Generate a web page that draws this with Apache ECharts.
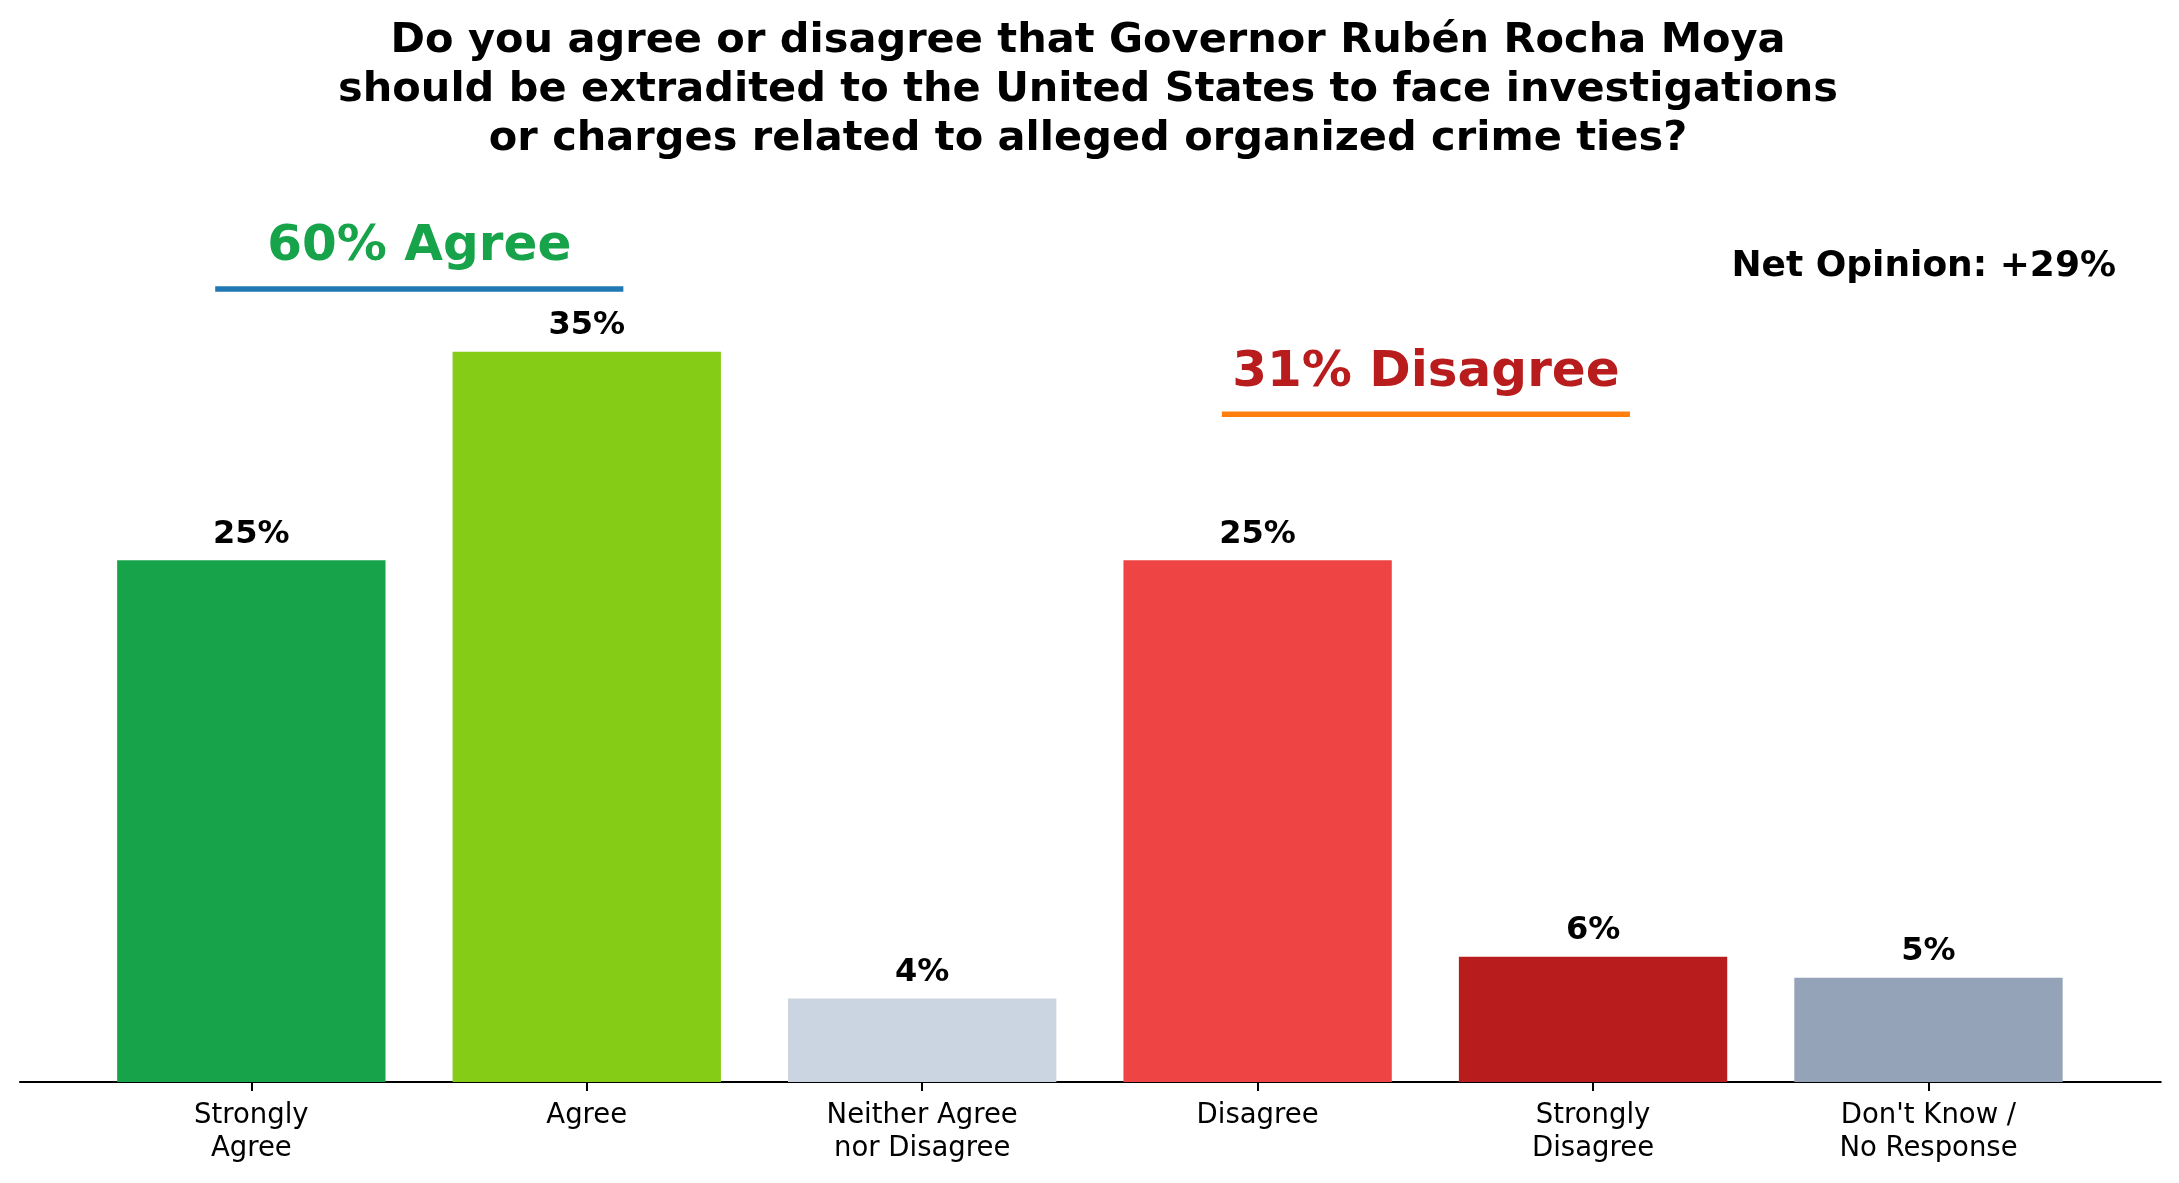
<!DOCTYPE html>
<html>
<head>
<meta charset="utf-8">
<script src="https://cdn.jsdelivr.net/npm/echarts@6/dist/echarts.min.js"></script>
<style>
html,body{margin:0;padding:0;background:#fff;}
#chart{width:2179px;height:1183px;}
</style>
</head>
<body>
<div id="chart"></div>
<script>
// ---- data ----
const categories = ['Strongly\nAgree', 'Agree', 'Neither Agree\nnor Disagree', 'Disagree', 'Strongly\nDisagree', "Don't Know /\nNo Response"];
const values = [25, 35, 4, 25, 6, 5];
const agreeTotal = 60;
const disagreeTotal = 31;
const netOpinion = 29;
const titleText = 'Do you agree or disagree that Governor Rubén Rocha Moya\nshould be extradited to the United States to face investigations\nor charges related to alleged organized crime ties?';

// ---- styles ----
const barColors = ['#16a34a', '#84cc16', '#cbd5e1', '#ef4444', '#b91c1c', '#94a3b8'];
const FONT = 'DejaVu Sans';
const Y_MAX = 45;

const chart = echarts.init(document.getElementById('chart'), null, {renderer: 'canvas'});
const gridTop = 143, gridBottom = 101;

const option = {
  animation: false,
  backgroundColor: '#ffffff',
  textStyle: {fontFamily: FONT},
  title: [
    {
      text: titleText,
      left: 1088, top: 17, textAlign: 'center', padding: 0,
      textStyle: {fontFamily: FONT, fontWeight: 'bold', fontSize: 41.5, lineHeight: 49, color: '#000'}
    },
    {
      text: 'Net Opinion: +' + netOpinion + '%',
      right: 63, top: 249, padding: 0,
      textStyle: {fontFamily: FONT, fontWeight: 'bold', fontSize: 36, lineHeight: 36, color: '#000'}
    }
  ],
  grid: [
    {left: 83.6, right: 82.8, top: gridTop, bottom: gridBottom},
    {left: 20, right: 18.3, top: gridTop, bottom: gridBottom}
  ],
  xAxis: [
    {
      type: 'category', gridIndex: 0, data: categories,
      axisLine: {show: false},
      axisTick: {show: true, alignWithLabel: true, length: 9, lineStyle: {color: '#000', width: 2}},
      axisLabel: {fontFamily: FONT, fontSize: 27.5, lineHeight: 33, color: '#000', margin: 17, interval: 0}
    },
    {
      type: 'value', gridIndex: 1, min: -0.69, max: 5.69,
      axisLine: {show: true, onZero: false, lineStyle: {color: '#000', width: 2.2}},
      axisTick: {show: false}, axisLabel: {show: false}, splitLine: {show: false}
    }
  ],
  yAxis: [
    {type: 'value', gridIndex: 0, min: 0, max: Y_MAX, show: false, splitLine: {show: false}},
    {type: 'value', gridIndex: 1, min: 0, max: Y_MAX, show: false, splitLine: {show: false}}
  ],
  series: [
    {
      type: 'bar', xAxisIndex: 0, yAxisIndex: 0, barWidth: '80%',
      data: values.map((v, i) => ({value: v, itemStyle: {color: barColors[i]}})),
      label: {
        show: true, position: 'top', distance: 10,
        formatter: p => p.value + '%',
        fontFamily: FONT, fontWeight: 'bold', fontSize: 32, color: '#000'
      },
      silent: true
    },
    {
      type: 'line', xAxisIndex: 1, yAxisIndex: 1, showSymbol: false, silent: true,
      data: [[-0.1, 38], [1.1, 38]],
      lineStyle: {color: '#1f77b4', width: 5.5, cap: 'square'}
    },
    {
      type: 'line', xAxisIndex: 1, yAxisIndex: 1, showSymbol: false, silent: true,
      data: [[2.9, 32], [4.1, 32]],
      lineStyle: {color: '#ff7f0e', width: 5.5, cap: 'square'}
    },
    {
      type: 'scatter', xAxisIndex: 1, yAxisIndex: 1, symbolSize: 0, silent: true,
      itemStyle: {opacity: 1},
      data: [[0.5, 40]],
      label: {show: true, position: 'inside', formatter: agreeTotal + '% Agree',
        fontFamily: FONT, fontWeight: 'bold', fontSize: 50, color: '#16a34a', opacity: 1}
    },
    {
      type: 'scatter', xAxisIndex: 1, yAxisIndex: 1, symbolSize: 0, silent: true,
      itemStyle: {opacity: 1},
      data: [[3.5, 34]],
      label: {show: true, position: 'inside', formatter: disagreeTotal + '% Disagree',
        fontFamily: FONT, fontWeight: 'bold', fontSize: 50, color: '#b91c1c', opacity: 1}
    }
  ]
};
chart.setOption(option);
</script>
</body>
</html>
